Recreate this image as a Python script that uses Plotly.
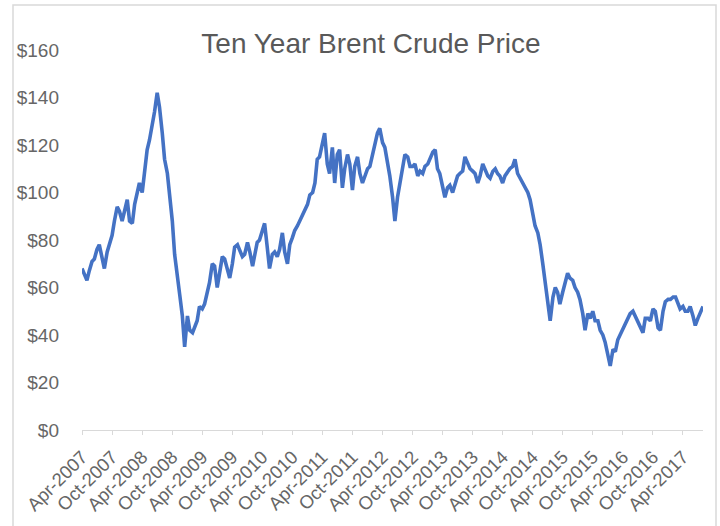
import plotly.graph_objects as go

# Semi-monthly Brent prices (1st and 15th of each month), USD/bbl
p2007 = [68, 66, 63, 67, 71, 72, 76, 78, 72, 68, 75, 79, 82, 88, 94, 92, 88, 92]
p2008 = [97, 88, 87, 95, 100, 104, 100, 108, 118, 122, 128, 134, 142, 136, 125, 114, 108, 100, 88, 74, 66, 57, 48, 35]
p2009 = [48, 42, 41, 44, 46, 52, 51, 53, 58, 62, 70, 69, 60, 65, 73, 72, 67, 64, 70, 77, 78, 76, 73, 74]
p2010 = [79, 75, 69, 74, 79, 80, 84, 87, 77, 68, 74, 75, 73, 76, 83, 75, 70, 78, 81, 84, 86, 88, 91, 93]
p2011 = [95, 99, 100, 104, 114, 115, 120, 125, 112, 108, 119, 104, 116, 118, 102, 110, 116, 112, 101, 111, 115, 108, 104, 107]
p2012 = [110, 111, 116, 119, 125, 127, 121, 119, 113, 107, 98, 88, 98, 104, 112, 116, 115, 111, 111, 112, 107, 109, 108, 111]
p2013 = [112, 114, 117, 118, 110, 108, 103, 98, 102, 103, 100, 103, 107, 108, 109, 115, 112, 110, 109, 108, 104, 107, 112, 110]
p2014 = [107, 106, 109, 110, 108, 107, 104, 107, 109, 110, 111, 114, 108, 106, 104, 102, 100, 97, 92, 86, 83, 78, 70, 62]
p2015 = [52, 46, 56, 60, 58, 53, 58, 62, 66, 64, 63, 60, 58, 55, 49, 42, 49, 47, 50, 46, 46, 42, 40, 37]
p2016 = [32, 27, 34, 33, 38, 40, 42, 44, 47, 49, 50, 48, 46, 44, 41, 47, 47, 46, 51, 50, 43, 42, 50, 54]
p2017 = [55, 55, 56, 56, 53, 51, 52, 50, 50, 52, 48, 44, 47, 49, 52]

years = [2007, 2008, 2009, 2010, 2011, 2012, 2013, 2014, 2015, 2016, 2017]
series = [p2007, p2008, p2009, p2010, p2011, p2012, p2013, p2014, p2015, p2016, p2017]

tick_labels = ["Apr-2007", "Oct-2007", "Apr-2008", "Oct-2008", "Apr-2009", "Oct-2009",
               "Apr-2010", "Oct-2010", "Apr-2011", "Oct-2011", "Apr-2012", "Oct-2012",
               "Apr-2013", "Oct-2013", "Apr-2014", "Oct-2014", "Apr-2015", "Oct-2015",
               "Apr-2016", "Oct-2016", "Apr-2017"]
y_ticks = [0, 20, 40, 60, 80, 100, 120, 140, 160]

mon = {"Jan": 1, "Feb": 2, "Mar": 3, "Apr": 4, "May": 5, "Jun": 6,
       "Jul": 7, "Aug": 8, "Sep": 9, "Oct": 10, "Nov": 11, "Dec": 12}

dates, prices = [], []
for yr, vals in zip(years, series):
    start = 4 if yr == 2007 else 1
    for i, v in enumerate(vals):
        m = start + i // 2
        d = 1 if i % 2 == 0 else 15
        dates.append(f"{yr}-{m:02d}-{d:02d}")
        prices.append(v)

tick_vals = [f"{t.split('-')[1]}-{mon[t.split('-')[0]]:02d}-01" for t in tick_labels]

fig = go.Figure()
fig.add_trace(go.Scatter(x=dates, y=prices, mode="lines",
                         line=dict(color="#4472C4", width=3.6), showlegend=False))

font_family = "Liberation Sans, Arial, sans-serif"
fig.update_layout(
    width=720, height=526,
    margin=dict(l=82, r=17, t=50, b=96),
    paper_bgcolor="white", plot_bgcolor="white",
    font=dict(family=font_family, color="#666666"),
    title=dict(text="Ten Year Brent Crude Price", x=371/720, xanchor="center",
               y=1 - 43/526, yanchor="middle",
               font=dict(size=28, color="#595959", family=font_family)),
    xaxis=dict(type="date", range=["2007-04-01", "2017-08-01"],
               tickvals=tick_vals, ticktext=tick_labels, tickangle=-45,
               showgrid=False, zeroline=False, showline=True, linecolor="#d9d9d9",
               linewidth=1, ticks="outside", ticklen=4, tickcolor="#d9d9d9",
               ticklabelstandoff=4,
               tickfont=dict(size=18.5, color="#666666")),
    yaxis=dict(range=[0, 160], tickvals=y_ticks,
               ticktext=[f"${v}" for v in y_ticks],
               showgrid=False, zeroline=False, showline=False,
               ticklabelstandoff=22,
               tickfont=dict(size=19, color="#666666")),
    shapes=[dict(type="rect", xref="paper", yref="paper",
                 x0=(13 - 82) / 621, x1=(716 - 82) / 621,
                 y0=(430 - 540) / 380, y1=(430 - 5) / 380,
                 line=dict(color="#d9d9d9", width=1.5), fillcolor="rgba(0,0,0,0)",
                 layer="below")],
)

fig.write_html("out.html", config={"displayModeBar": False},
               post_script="document.body.style.margin='0';")
